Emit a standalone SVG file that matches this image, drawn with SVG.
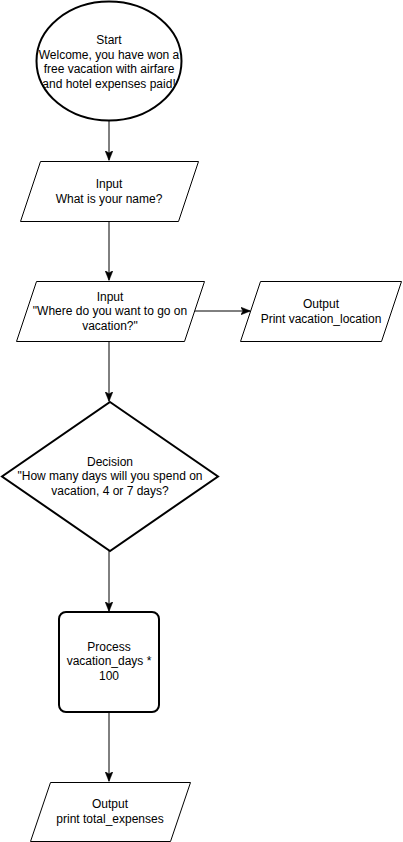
<svg xmlns="http://www.w3.org/2000/svg" width="403" height="842" viewBox="0 0 403 842">
  <style>
    .shape { fill: #ffffff; stroke: #000000; }
    .thin { stroke-width: 1; }
    .bold { stroke-width: 2; }
    .edge { fill: none; stroke: #000000; stroke-width: 1; }
    text { font-family: "Liberation Sans", Arial, Helvetica, sans-serif; font-size: 12px; fill: #000000; text-anchor: middle; }
  </style>
  <defs>
    <marker id="arrow" viewBox="0 0 10 8" refX="9.5" refY="4" markerWidth="10" markerHeight="8" markerUnits="userSpaceOnUse" orient="auto">
      <path d="M0,0 L10,4 L0,8 L2.5,4 Z" fill="#000000" stroke="#000000" stroke-width="0.5"/>
    </marker>
  </defs>
  <rect x="0" y="0" width="403" height="842" fill="#ffffff"/>

  <!-- connectors -->
  <g id="connectors">
    <path class="edge" d="M109,121 L109,160" marker-end="url(#arrow)"/>
    <path class="edge" d="M109,221 L109,280" marker-end="url(#arrow)"/>
    <path class="edge" d="M194,311 L250,311" marker-end="url(#arrow)"/>
    <path class="edge" d="M109,341 L109,401" marker-end="url(#arrow)"/>
    <path class="edge" d="M109,551 L109,611" marker-end="url(#arrow)"/>
    <path class="edge" d="M109,712 L109,781" marker-end="url(#arrow)"/>
  </g>

  <!-- start terminator -->
  <g id="start">
    <ellipse class="shape bold" cx="109" cy="61" rx="72.5" ry="59.5"/>
    <text x="109" y="44">Start</text>
    <text x="109" y="58.5">Welcome, you have won a</text>
    <text x="109" y="73">free vacation with airfare</text>
    <text x="109" y="87.5">and hotel expenses paid!</text>
  </g>

  <!-- input: name -->
  <g id="input-name">
    <polygon class="shape thin" points="40.5,161.5 198.5,161.5 178.5,221.5 20.5,221.5"/>
    <text x="109" y="188">Input</text>
    <text x="109" y="202.5">What is your name?</text>
  </g>

  <!-- input: location -->
  <g id="input-location">
    <polygon class="shape thin" points="36.5,281.5 204.5,281.5 184.5,341.5 16.5,341.5"/>
    <text x="110" y="300.5">Input</text>
    <text x="110" y="315">"Where do you want to go on</text>
    <text x="110" y="329.5">vacation?"</text>
  </g>

  <!-- output: location -->
  <g id="output-location">
    <polygon class="shape thin" points="260.5,281.5 401.5,281.5 381.5,341.5 240.5,341.5"/>
    <text x="321" y="308">Output</text>
    <text x="321" y="322.5">Print vacation_location</text>
  </g>

  <!-- decision: number of days -->
  <g id="decision-days">
    <polygon class="shape bold" points="110,402 218,476.5 110,551 2,476.5"/>
    <text x="110" y="465.5">Decision</text>
    <text x="110" y="480">"How many days will you spend on</text>
    <text x="110" y="494.5">vacation, 4 or 7 days?</text>
  </g>

  <!-- process: cost -->
  <g id="process-cost">
    <rect class="shape bold" x="59" y="612" width="100" height="100" rx="7" ry="7"/>
    <text x="109" y="650.5">Process</text>
    <text x="109" y="665">vacation_days *</text>
    <text x="109" y="679.5">100</text>
  </g>

  <!-- output: total -->
  <g id="output-total">
    <polygon class="shape thin" points="50.5,782.5 190.5,782.5 170.5,841.5 30.5,841.5"/>
    <text x="110" y="808">Output</text>
    <text x="110" y="822.5">print total_expenses</text>
  </g>
</svg>
